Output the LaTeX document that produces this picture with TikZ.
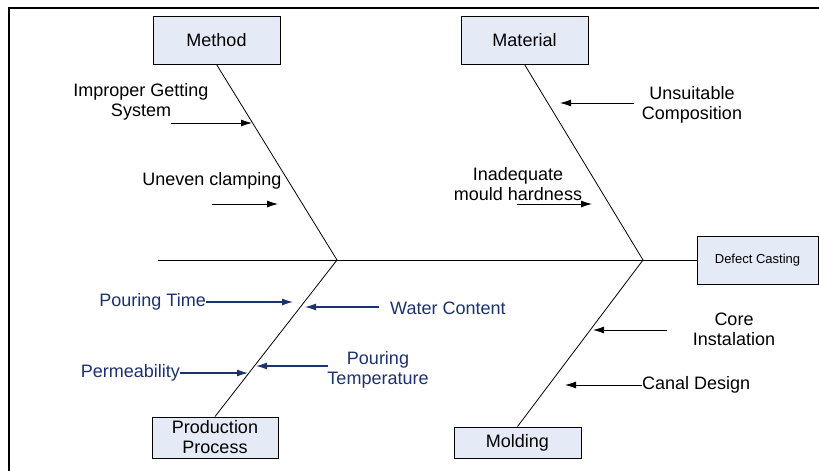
\documentclass[tikz,border=0pt]{standalone}
\usepackage{fontspec}
\setmainfont{Liberation Sans}
\usetikzlibrary{arrows.meta}
\definecolor{boxfill}{RGB}{228,234,246}
\definecolor{causeblue}{RGB}{28,50,112}
\begin{document}
\begin{tikzpicture}[x=1pt,y=-1pt,%
>={Latex[length=11pt,width=7pt]},
% common options for the category boxes:
catbox/.style = {draw, fill=boxfill, align=center, inner sep=0,
            line width=0.9pt, font=\fontsize{18}{20}\selectfont},
% common options for the cause texts:
cause/.style = {align=center, inner sep=0, font=\fontsize{18}{20}\selectfont},
bone/.style = {line width=0.8pt},
blue/.style = {causeblue, line width=1.2pt}]
\useasboundingbox (0,0) rectangle (819,471);
\draw[line width=2.7pt] (9,471) -- (9,8) -- (819,8);
% boxes
\node[catbox,minimum width=127pt,minimum height=48pt] (method) at (216.5,40) {Method};
\node[catbox,minimum width=127pt,minimum height=48pt] (material) at (524.5,40) {Material};
\node[catbox,minimum width=126pt,minimum height=41pt] (prod) at (215,437.5) {Production\\Process};
\node[catbox,minimum width=127pt,minimum height=31pt] (molding) at (517.5,442.5) {Molding};
\node[catbox,minimum width=121pt,minimum height=48pt,font=\fontsize{13}{15}\selectfont] (defect) at (757.5,260) {Defect Casting};
% spine and bones
\coordinate (tail) at (158,260);
\coordinate (jl) at (337,260);
\coordinate (jr) at (643,260);
\draw[bone] (tail) -- (defect.west);
\draw[bone] (method.south) -- (jl);
\draw[bone] (material.south) -- (jr);
\draw[bone] (prod.north) -- (jl);
\draw[bone] (molding.north) -- (jr);
% causes
\node[cause] (C1) at (141,102) {Improper Getting\\System};
\node[cause] (C2) at (212,181) {Uneven clamping};
\node[cause] (C3) at (692,105) {Unsuitable\\Composition};
\node[cause] (C4) at (518,184) {Inadequate\\mould hardness};
\node[cause,causeblue,anchor=east] (C5) at (206,302) {Pouring Time};
\node[cause,causeblue,anchor=west] (C6) at (390,308) {Water Content};
\node[cause,causeblue,anchor=east] (C7) at (180,373) {Permeability};
\node[cause,causeblue] (C8) at (378,370) {Pouring\\Temperature};
\node[cause] (C9) at (734,329) {Core\\Instalation};
\node[cause,anchor=west] (C10) at (642,385) {Canal Design};
% arrow ends
\coordinate (a1) at (171,123); \coordinate (b1) at (252,123);
\coordinate (a2) at (212,204); \coordinate (b2) at (278,204);
\coordinate (a3) at (634,103); \coordinate (b3) at (560,103);
\coordinate (a4) at (517,204); \coordinate (b4) at (592,204);
\coordinate (b5) at (293,302);
\coordinate (a6) at (379,307); \coordinate (b6) at (305,307);
\coordinate (b7) at (248,373);
\coordinate (a8) at (328,366); \coordinate (b8) at (256,366);
\coordinate (a9) at (667,330); \coordinate (b9) at (593,330);
\coordinate (b10) at (565,385);
\draw[->,bone] (a1) -- (b1);
\draw[->,bone] (a2) -- (b2);
\draw[->,bone] (a3) -- (b3);
\draw[->,bone] (a4) -- (b4);
\draw[->,blue] (C5.east) -- (b5);
\draw[->,blue] (a6) -- (b6);
\draw[->,blue] (C7.east) -- (b7);
\draw[->,blue] (a8) -- (b8);
\draw[->,bone] (a9) -- (b9);
\draw[->,bone] (C10.west) -- (b10);
\end{tikzpicture}
\end{document}
